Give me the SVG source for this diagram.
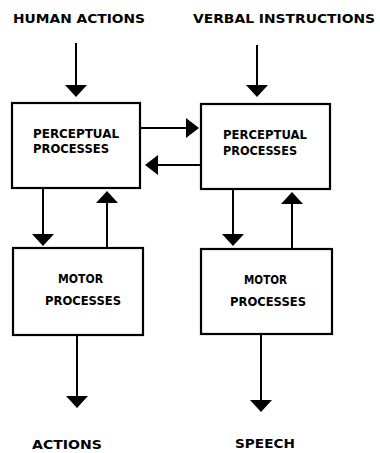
<svg xmlns="http://www.w3.org/2000/svg" width="380" height="453" viewBox="0 0 380 453">
<defs>
<style>
.box{fill:#fff;stroke:#000;stroke-width:2.2}
.ln{stroke:#000;stroke-width:2;fill:none}
.ah{fill:#000}
text{font-family:"DejaVu Sans","Liberation Sans",sans-serif;font-weight:bold;font-size:12.5px;fill:#000}
</style>
</defs>
<rect width="380" height="453" fill="#fff"/>
<g id="label-human-actions"><text x="13" y="23" textLength="132" lengthAdjust="spacingAndGlyphs">HUMAN ACTIONS</text></g>
<g id="label-verbal-instructions"><text x="193" y="23" textLength="182" lengthAdjust="spacingAndGlyphs">VERBAL INSTRUCTIONS</text></g>
<g id="perceptual-left">
<rect class="box" x="12" y="103" width="128" height="85"/>
<text x="33" y="138" textLength="86" lengthAdjust="spacingAndGlyphs">PERCEPTUAL</text>
<text x="33" y="153" textLength="76" lengthAdjust="spacingAndGlyphs">PROCESSES</text>
</g>
<g id="perceptual-right">
<rect class="box" x="201" y="104" width="129" height="85"/>
<text x="223" y="139" textLength="84" lengthAdjust="spacingAndGlyphs">PERCEPTUAL</text>
<text x="223" y="155" textLength="74" lengthAdjust="spacingAndGlyphs">PROCESSES</text>
</g>
<g id="motor-left">
<rect class="box" x="13" y="248" width="130" height="87"/>
<text x="58" y="283" textLength="45" lengthAdjust="spacingAndGlyphs">MOTOR</text>
<text x="45" y="305" textLength="76" lengthAdjust="spacingAndGlyphs">PROCESSES</text>
</g>
<g id="motor-right">
<rect class="box" x="201" y="249" width="131" height="85"/>
<text x="244" y="284" textLength="43" lengthAdjust="spacingAndGlyphs">MOTOR</text>
<text x="230" y="306" textLength="76" lengthAdjust="spacingAndGlyphs">PROCESSES</text>
</g>
<g id="label-actions"><text x="32" y="449" textLength="70" lengthAdjust="spacingAndGlyphs">ACTIONS</text></g>
<g id="label-speech"><text x="235" y="448" textLength="60" lengthAdjust="spacingAndGlyphs">SPEECH</text></g>
<g id="connectors">
<line class="ln" x1="76" y1="43" x2="76" y2="87"/>
<polygon class="ah" points="65,85 87,85 76,97"/>
<line class="ln" x1="257" y1="45" x2="257" y2="87"/>
<polygon class="ah" points="246,85 268,85 257,97"/>
<line class="ln" x1="140" y1="128" x2="188" y2="128"/>
<polygon class="ah" points="186,118 186,138 199,128"/>
<line class="ln" x1="201" y1="165" x2="155" y2="165"/>
<polygon class="ah" points="158,155 158,175 145,165"/>
<line class="ln" x1="43" y1="188" x2="43" y2="236"/>
<polygon class="ah" points="32,234 54,234 43,246"/>
<line class="ln" x1="107" y1="248" x2="107" y2="200"/>
<polygon class="ah" points="96,203 118,203 107,191"/>
<line class="ln" x1="233" y1="189" x2="233" y2="236"/>
<polygon class="ah" points="222,234 244,234 233,246"/>
<line class="ln" x1="292" y1="249" x2="292" y2="200"/>
<polygon class="ah" points="281,204 303,204 292,192"/>
<line class="ln" x1="77" y1="335" x2="77" y2="398"/>
<polygon class="ah" points="66,396 88,396 77,408"/>
<line class="ln" x1="261" y1="334" x2="261" y2="402"/>
<polygon class="ah" points="250,400 272,400 261,412"/>
</g>
</svg>
